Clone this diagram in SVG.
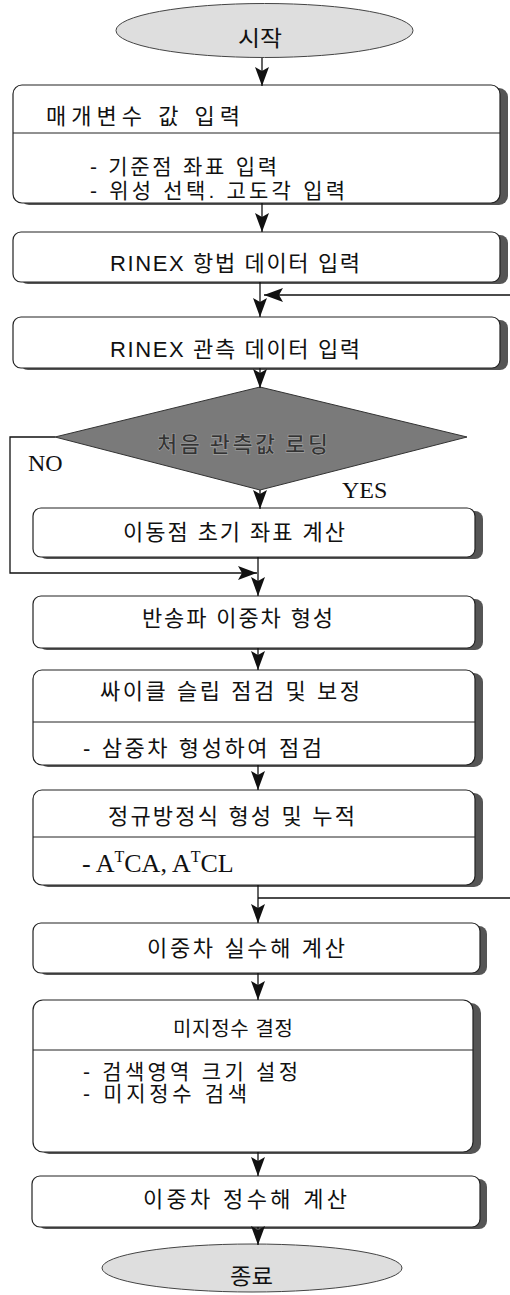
<svg xmlns="http://www.w3.org/2000/svg" width="510" height="1295" viewBox="0 0 510 1295">
<defs>
<marker id="ah" viewBox="0 0 19 14" refX="19" refY="7" markerWidth="19" markerHeight="14" markerUnits="userSpaceOnUse" orient="auto">
<path d="M0 0 L4 7 L0 14 L19 7 Z" fill="#111"/>
</marker>
</defs>
<style>
.box{fill:#fff;stroke:#222;stroke-width:1.2}
.sh{fill:#555}
.div{stroke:#222;stroke-width:1}
.t{font-family:"Liberation Sans","Noto Sans CJK KR",sans-serif;font-size:22px;fill:#111}
.s{font-size:21px}
.tm{font-family:"Liberation Serif","Noto Sans CJK KR",serif;font-size:24px;fill:#111}
.con{fill:none;stroke:#111;stroke-width:1.3}
.term{fill:#dedede;stroke:#444;stroke-width:1}
</style>
<rect width="510" height="1295" fill="#fff"/>

<g id="start">
<ellipse class="term" cx="264.5" cy="30.5" rx="148.5" ry="27"/>
<text class="t" x="238" y="46" textLength="44" lengthAdjust="spacingAndGlyphs">시작</text>
</g>

<g id="box1">
<rect class="sh" x="20" y="88" width="488" height="117" rx="9"/>
<rect class="box" x="13" y="85" width="487" height="118" rx="9"/>
<line class="div" x1="13" y1="133" x2="500" y2="133"/>
<text class="t" x="46" y="124" textLength="194" lengthAdjust="spacing">매개변수 값 입력</text>
<text class="t s" x="90" y="174" textLength="187" lengthAdjust="spacing">- 기준점 좌표 입력</text>
<text class="t s" x="90" y="198" textLength="255" lengthAdjust="spacing">- 위성 선택. 고도각 입력</text>
</g>

<g id="box2">
<rect class="sh" x="20" y="235" width="488" height="49" rx="8"/>
<rect class="box" x="13" y="232" width="487" height="50" rx="8"/>
<text class="t" x="110" y="271" textLength="250" lengthAdjust="spacing">RINEX 항법 데이터 입력</text>
</g>

<g id="box3">
<rect class="sh" x="20" y="320" width="488" height="50" rx="8"/>
<rect class="box" x="13" y="317" width="487" height="51" rx="8"/>
<text class="t" x="110" y="357" textLength="250" lengthAdjust="spacing">RINEX 관측 데이터 입력</text>
</g>

<g id="decision">
<polygon points="260,387 467,437 260,490 55,437" fill="#7a7a7a" stroke="#333" stroke-width="1"/>
<text x="157" y="452" textLength="171" lengthAdjust="spacing" style="font-family:'Noto Sans CJK KR',sans-serif;font-size:22px;font-weight:bold;fill:#333;stroke:#a8a8a8;stroke-width:0.6">처음 관측값 로딩</text>
</g>

<g id="labels">
<text class="tm" x="28" y="471">NO</text>
<text class="tm" x="342" y="498">YES</text>
</g>

<g id="box4">
<rect class="sh" x="39" y="511" width="444" height="48" rx="8"/>
<rect class="box" x="33" y="508" width="442" height="49" rx="8"/>
<text class="t" x="123" y="540" textLength="222" lengthAdjust="spacing">이동점 초기 좌표 계산</text>
</g>

<g id="box5">
<rect class="sh" x="39" y="599" width="444" height="51" rx="8"/>
<rect class="box" x="33" y="596" width="442" height="52" rx="8"/>
<text class="t" x="142" y="626" textLength="191" lengthAdjust="spacing">반송파 이중차 형성</text>
</g>

<g id="box6">
<rect class="sh" x="39" y="673" width="444" height="94" rx="9"/>
<rect class="box" x="33" y="670" width="442" height="95" rx="9"/>
<line class="div" x1="33" y1="722" x2="475" y2="722"/>
<text class="t" x="100" y="699" textLength="260" lengthAdjust="spacing">싸이클 슬립 점검 및 보정</text>
<text class="t" x="83" y="756" textLength="239" lengthAdjust="spacing">- 삼중차 형성하여 점검</text>
</g>

<g id="box7">
<rect class="sh" x="39" y="793" width="444" height="94" rx="9"/>
<rect class="box" x="33" y="790" width="442" height="95" rx="9"/>
<line class="div" x1="33" y1="837" x2="475" y2="837"/>
<text class="t" x="108" y="824" textLength="247" lengthAdjust="spacing">정규방정식 형성 및 누적</text>
<text class="tm" x="82" y="872" style="font-size:26px">- A<tspan dy="-10" style="font-size:16px">T</tspan><tspan dy="10">CA, A</tspan><tspan dy="-10" style="font-size:16px">T</tspan><tspan dy="10">CL</tspan></text>
</g>

<g id="box8">
<rect class="sh" x="39" y="926" width="448" height="49" rx="8"/>
<rect class="box" x="33" y="923" width="447" height="50" rx="8"/>
<text class="t" x="147" y="956" textLength="198" lengthAdjust="spacing">이중차 실수해 계산</text>
</g>

<g id="box9">
<rect class="sh" x="39" y="1003" width="442" height="151" rx="10"/>
<rect class="box" x="33" y="1000" width="440" height="152" rx="10"/>
<line class="div" x1="33" y1="1050" x2="473" y2="1050"/>
<text class="t" x="173" y="1036" textLength="120" lengthAdjust="spacing" style="font-size:20px">미지정수 결정</text>
<text class="t s" x="83" y="1079" textLength="215" lengthAdjust="spacing">- 검색영역 크기 설정</text>
<text class="t s" x="83" y="1101" textLength="164" lengthAdjust="spacing">- 미지정수 검색</text>
</g>

<g id="box10">
<rect class="sh" x="38" y="1179" width="449" height="50" rx="8"/>
<rect class="box" x="32" y="1176" width="448" height="51" rx="8"/>
<text class="t" x="143" y="1207" textLength="204" lengthAdjust="spacing">이중차 정수해 계산</text>
</g>

<g id="end">
<ellipse class="term" cx="252" cy="1268" rx="150" ry="24"/>
<text class="t" x="230" y="1284" textLength="43" lengthAdjust="spacingAndGlyphs">종료</text>
</g>

<g id="connectors">
<line class="con" x1="262" y1="58" x2="262" y2="86" marker-end="url(#ah)"/>
<line class="con" x1="262" y1="203" x2="262" y2="232" marker-end="url(#ah)"/>
<line class="con" x1="260" y1="282" x2="260" y2="317" marker-end="url(#ah)"/>
<path class="con" d="M258 898 H516 V295 H264" marker-end="url(#ah)"/>
<line class="con" x1="260" y1="368" x2="260" y2="388" marker-end="url(#ah)"/>
<line class="con" x1="260" y1="490" x2="260" y2="509" marker-end="url(#ah)"/>
<path class="con" d="M55 437 H10 V573 H257" marker-end="url(#ah)"/>
<line class="con" x1="258" y1="557" x2="258" y2="596" marker-end="url(#ah)"/>
<line class="con" x1="258" y1="648" x2="258" y2="670" marker-end="url(#ah)"/>
<line class="con" x1="258" y1="765" x2="258" y2="790" marker-end="url(#ah)"/>
<line class="con" x1="258" y1="885" x2="258" y2="923" marker-end="url(#ah)"/>
<line class="con" x1="258" y1="973" x2="258" y2="1000" marker-end="url(#ah)"/>
<line class="con" x1="258" y1="1152" x2="258" y2="1176" marker-end="url(#ah)"/>
<line class="con" x1="258" y1="1227" x2="258" y2="1245" marker-end="url(#ah)"/>
</g>
</svg>
